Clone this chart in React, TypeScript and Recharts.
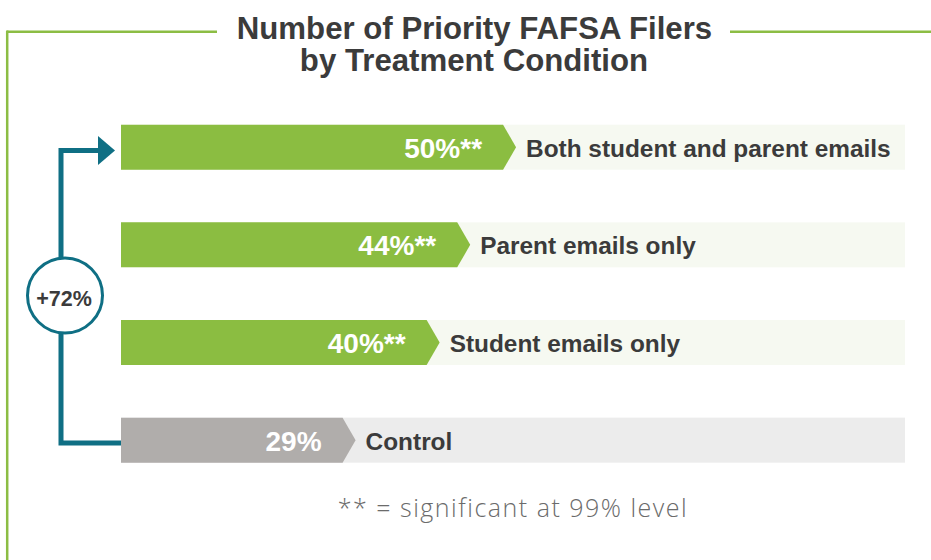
import { BarChart, Bar, XAxis, YAxis, LabelList } from "recharts"

const categories = [
  "Both student and parent emails",
  "Parent emails only",
  "Student emails only",
  "Control",
]
const shares = [50, 44, 40, 29]
const significant = [true, true, true, false]
const trackMax = 102.6
const increaseLabel = "+72%"

const data = categories.map((name, i) => ({
  name,
  value: shares[i],
  sig: significant[i],
}))

const BAR_COLORS = ["#8bbd41", "#8bbd41", "#8bbd41", "#b0adab"]
const TRACK_COLORS = ["#f6f9f1", "#f6f9f1", "#f6f9f1", "#ececec"]
const FRAME = "#8cbd44"
const TEAL = "#0f6f84"
const DARK = "#3b3b3b"
const SANS = "'Liberation Sans', Arial, Helvetica, sans-serif"

const W = 931
const H = 560
const TOP = 98.7
const BOTTOM = 70.7
const LEFT = 121
const RIGHT = 26
const BAND = (H - TOP - BOTTOM) / categories.length
const TIP = 13

const ArrowBar = (props: any) => {
  const { x, y, width, height, index } = props
  const end = x + width
  const pts = [
    `${x},${y}`,
    `${end},${y}`,
    `${end + TIP},${y + height / 2}`,
    `${end},${y + height}`,
    `${x},${y + height}`,
  ].join(" ")
  return <polygon points={pts} fill={BAR_COLORS[index % BAR_COLORS.length]} />
}

const Track = (props: any) => {
  const { x, y, width, height, index } = props
  return (
    <rect
      x={x}
      y={y}
      width={width}
      height={height}
      fill={TRACK_COLORS[(index ?? 0) % TRACK_COLORS.length]}
    />
  )
}

const ValueLabel = (props: any) => {
  const { x, y, width, height, index } = props
  const text = `${shares[index]}%${significant[index] ? "**" : ""}`
  return (
    <text
      x={x + width - 21}
      y={y + height / 2 + 1}
      textAnchor="end"
      dominantBaseline="central"
      fill="#ffffff"
      fontFamily={SANS}
      fontWeight="bold"
      fontSize={28}
    >
      {text}
    </text>
  )
}

const NameLabel = (props: any) => {
  const { x, y, width, height, value } = props
  return (
    <text
      x={x + width + 23}
      y={y + height / 2 + 1}
      textAnchor="start"
      dominantBaseline="central"
      fill={DARK}
      fontFamily={SANS}
      fontWeight="bold"
      fontSize={24.4}
    >
      {value}
    </text>
  )
}

const Overlay = () => {
  const firstY = TOP + BAND / 2
  const lastY = TOP + BAND * (categories.length - 0.5) + 2.5
  const lineX = 61
  return (
    <svg
      width={W}
      height={H}
      style={{ position: "absolute", left: 0, top: 0, pointerEvents: "none" }}
    >
      {/* frame */}
      <line x1={7} y1={31.7} x2={217} y2={31.7} stroke={FRAME} strokeWidth={2.5} />
      <line x1={730} y1={31.7} x2={W} y2={31.7} stroke={FRAME} strokeWidth={2.5} />
      <line x1={7.2} y1={30.5} x2={7.2} y2={H} stroke={FRAME} strokeWidth={2.5} />

      {/* title */}
      <text
        x={474.5}
        y={38.5}
        textAnchor="middle"
        fill={DARK}
        fontFamily={SANS}
        fontWeight="bold"
        fontSize={31.2}
      >
        Number of Priority FAFSA Filers
      </text>
      <text
        x={474}
        y={70.5}
        textAnchor="middle"
        fill={DARK}
        fontFamily={SANS}
        fontWeight="bold"
        fontSize={31.2}
      >
        by Treatment Condition
      </text>

      {/* bracket */}
      <path
        d={`M ${LEFT} ${lastY} H ${lineX} V ${firstY + 3} H 99`}
        fill="none"
        stroke={TEAL}
        strokeWidth={5}
      />
      <polygon
        points={`98,${firstY - 11.5} 115,${firstY + 3} 98,${firstY + 17.5}`}
        fill={TEAL}
      />
      <circle cx={65} cy={295.5} r={37.5} fill="#ffffff" stroke={TEAL} strokeWidth={3} />
      <text
        x={64}
        y={298.5}
        textAnchor="middle"
        dominantBaseline="central"
        fill={DARK}
        fontFamily={SANS}
        fontWeight="bold"
        fontSize={21.5}
      >
        {increaseLabel}
      </text>

      {/* footnote */}
      <text
        x={513}
        y={517}
        textAnchor="middle"
        fill="#6b6b6b"
        fontFamily="'Open Sans', Lato, sans-serif"
        fontWeight={300}
        fontSize={25}
        letterSpacing={1.5}
      >
        ** = significant at 99% level
      </text>
    </svg>
  )
}

const App = () => {
  return (
    <div style={{ position: "absolute", left: 0, top: 0, width: W, height: H, background: "#fff" }}>
      <BarChart
        width={W}
        height={H}
        data={data}
        layout="vertical"
        margin={{ top: TOP, right: RIGHT, bottom: BOTTOM, left: LEFT }}
      >
        <XAxis type="number" domain={[0, trackMax]} hide />
        <YAxis type="category" dataKey="name" hide />
        <Bar
          dataKey="value"
          barSize={45}
          isAnimationActive={false}
          shape={ArrowBar}
          background={Track}
        >
          <LabelList dataKey="value" content={ValueLabel} />
          <LabelList dataKey="name" content={NameLabel} />
        </Bar>
      </BarChart>
      <Overlay />
    </div>
  )
}

export default App
